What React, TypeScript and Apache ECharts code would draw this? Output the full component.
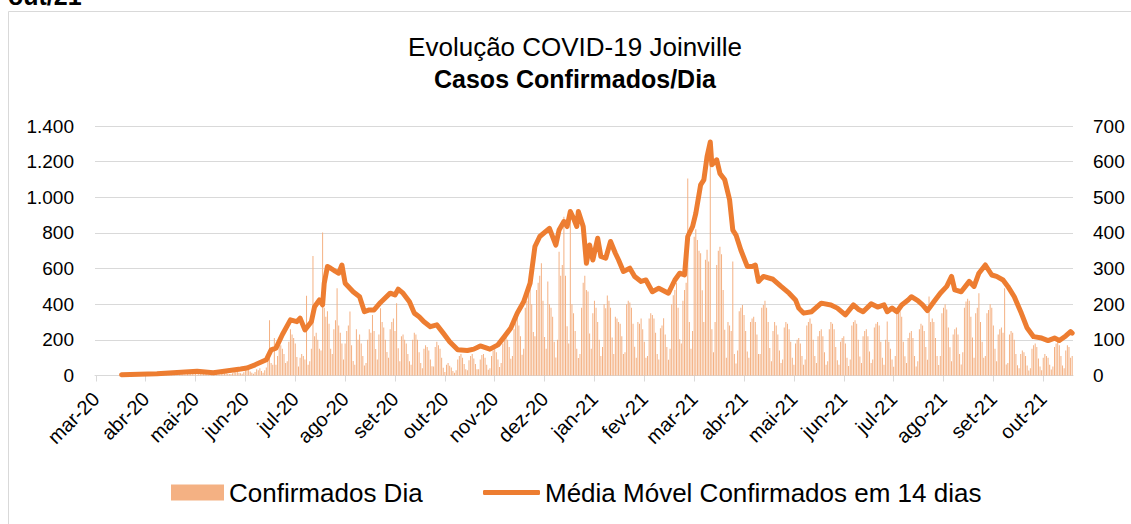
import React, { useEffect, useRef } from 'react';
import * as echarts from 'echarts';

// ---- axis / category data ----
const START_UTC = Date.UTC(2020, 2, 1);
const DAY_COUNT = 608;
const monthAbbr = ['jan', 'fev', 'mar', 'abr', 'mai', 'jun', 'jul', 'ago', 'set', 'out', 'nov', 'dez'];
const leftAxis = { min: 0, max: 1400, interval: 200 };
const rightAxis = { min: 0, max: 700, interval: 100 };

// ---- daily confirmed cases (one value per day, weekly rows) ----
const dailyCases = [
  0, 0, 0, 0, 0, 0, 0,
  0, 0, 0, 0, 0, 0, 0,
  0, 1, 0, 2, 3, 1, 2,
  1, 2, 4, 3, 5, 2, 3,
  2, 3, 6, 4, 5, 3, 4,
  3, 4, 7, 5, 6, 4, 5,
  3, 5, 8, 7, 6, 5, 6,
  4, 6, 10, 22, 9, 7, 6,
  5, 8, 14, 12, 13, 10, 8,
  6, 9, 15, 14, 12, 11, 9,
  4, 6, 10, 9, 11, 8, 7,
  5, 8, 13, 12, 14, 10, 9,
  8, 12, 20, 18, 21, 15, 12,
  10, 18, 30, 28, 32, 22, 16,
  10, 20, 35, 30, 40, 25, 15,
  30, 45, 80, 310, 70, 60, 210,
  60, 110, 180, 170, 150, 120, 70,
  80, 190, 260, 230, 210, 180, 104,
  50, 100, 120, 110, 90, 447, 60,
  80, 150, 671, 220, 240, 200, 150,
  140, 802, 380, 330, 360, 290, 150,
  120, 260, 310, 490, 280, 240, 180,
  90, 180, 250, 280, 359, 170, 81,
  60, 260, 200, 230, 180, 110, 56,
  70, 200, 260, 240, 340, 250, 148,
  90, 230, 378, 300, 270, 200, 132,
  100, 260, 300, 320, 250, 405, 153,
  80, 220, 230, 200, 180, 120, 80,
  60, 200, 240, 230, 200, 130, 70,
  40, 150, 170, 160, 140, 90, 52,
  50, 160, 190, 170, 150, 100, 44,
  20, 60, 70, 55, 45, 25, 15,
  30, 90, 110, 120, 100, 65, 35,
  30, 85, 110, 120, 95, 65, 35,
  35, 90, 115, 120, 100, 60, 32,
  40, 110, 140, 150, 130, 90, 48,
  70, 180, 220, 230, 200, 160, 94,
  110, 260, 320, 340, 280, 220, 116,
  150, 380, 420, 460, 500, 400, 244,
  220, 480, 520, 560, 630, 420, 216,
  150, 527, 400, 380, 330, 190, 101,
  200, 695, 560, 620, 891, 560, 276,
  180, 930, 400, 350, 250, 150, 98,
  120, 380, 520, 560, 480, 471, 235,
  150, 350, 420, 380, 300, 200, 110,
  160, 400, 378, 449, 420, 380, 213,
  120, 330, 320, 300, 290, 220, 120,
  130, 400, 420, 410, 380, 290, 162,
  100, 300, 290, 320, 260, 190, 100,
  110, 320, 350, 340, 320, 240, 120,
  90, 265, 280, 321, 230, 160, 88,
  150, 400, 450, 480, 520, 380, 204,
  180, 420, 480, 520, 1106, 300, 150,
  250, 779, 820, 760, 700, 686, 479,
  300, 650, 705, 640, 1240, 260, 131,
  300, 620, 700, 723, 680, 480, 257,
  100, 300, 280, 250, 639, 120, 67,
  140, 360, 380, 396, 340, 250, 134,
  100, 300, 320, 330, 300, 230, 120,
  120, 380, 396, 420, 380, 300, 154,
  80, 250, 300, 280, 230, 140, 70,
  90, 270, 300, 290, 260, 190, 100,
  60, 180, 200, 210, 180, 110, 60,
  90, 280, 300, 320, 290, 200, 110,
  70, 220, 250, 260, 220, 130, 60,
  80, 260, 300, 290, 260, 160, 86,
  60, 190, 210, 220, 180, 100, 54,
  90, 280, 300, 310, 290, 200, 106,
  70, 220, 250, 260, 220, 134, 70,
  90, 270, 290, 300, 280, 190, 100,
  60, 200, 303, 190, 150, 90, 49,
  110, 350, 380, 360, 330, 190, 108,
  70, 210, 240, 250, 210, 110, 50,
  80, 260, 290, 280, 250, 160, 88,
  443, 300, 320, 300, 210, 110, 59,
  110, 350, 380, 400, 370, 270, 158,
  80, 230, 260, 270, 230, 120, 62,
  130, 380, 415, 430, 420, 330, 213,
  100, 350, 380, 462, 300, 190, 100,
  110, 350, 368, 400, 380, 280, 150,
  80, 230, 260, 270, 240, 490, 62,
  70, 230, 250, 240, 200, 120, 58,
  40, 120, 140, 130, 110, 56, 28,
  40, 150, 170, 180, 160, 96, 50,
  30, 100, 120, 110, 100, 60, 34,
  50, 160, 180, 190, 170, 110, 56,
  40, 140, 170, 160, 100, 110,
];

// ---- 14-day moving average: day index (from 2020-03-01) and value ----
const maDays = [
  16, 38, 63, 73, 90, 94, 99, 106, 109, 112, 116, 121, 125, 127, 130, 134, 136, 139, 141, 142,
  144, 146, 149, 151, 153, 155, 160, 164, 167, 170, 173, 177, 183, 186, 188, 191, 195, 198, 201, 204,
  208, 212, 216, 220, 225, 231, 235, 239, 245, 250, 254, 258, 262, 266, 270, 273, 276, 282, 286, 288,
  291, 293, 295, 297, 299, 300, 303, 305, 307, 309, 312, 314, 317, 320, 323, 325, 328, 332, 335, 339,
  342, 346, 350, 356, 360, 363, 366, 368, 371, 373, 376, 378, 380, 382, 383, 386, 388, 391, 394, 396,
  398, 401, 405, 408, 410, 412, 415, 421, 426, 431, 435, 437, 440, 445, 451, 457, 461, 466, 471, 474,
  477, 482, 486, 490, 492, 495, 498, 501, 505, 507, 511, 514, 517, 521, 525, 529, 532, 534, 538, 543,
  546, 549, 553, 557, 560, 564, 567, 571, 575, 579, 583, 588, 592, 596, 599, 603, 606, 607,
];
const maValues = [
  2, 5, 12, 8, 18, 21, 30, 44, 72, 77, 115, 156, 151, 161, 128, 151, 193, 212, 198, 259,
  306, 301, 292, 287, 310, 259, 235, 221, 179, 184, 184, 205, 231, 226, 242, 231, 207, 175, 165, 151,
  137, 142, 119, 95, 72, 70, 74, 83, 74, 86, 109, 133, 175, 207, 259, 362, 390, 413, 366, 408,
  432, 418, 460, 441, 418, 460, 418, 315, 366, 324, 385, 334, 329, 376, 343, 324, 292, 301, 278, 264,
  268, 235, 245, 231, 268, 287, 282, 390, 418, 455, 535, 549, 614, 655, 591, 605, 567, 549, 493, 408,
  394, 352, 306, 306, 310, 264, 278, 270, 250, 231, 212, 189, 175, 179, 203, 198, 189, 170, 198, 186,
  179, 201, 192, 198, 179, 189, 179, 198, 212, 221, 210, 198, 182, 207, 231, 250, 278, 240, 235, 264,
  250, 287, 310, 282, 278, 268, 250, 221, 179, 133, 109, 105, 98, 105, 98, 111, 123, 119,
];

const barName = 'Confirmados Dia';
const lineName = 'Média Móvel Confirmados em 14 dias';

const FONT = '"Liberation Sans", Arial, sans-serif';

const categories = Array.from({ length: DAY_COUNT }, (_, i) =>
  new Date(START_UTC + i * 86400000).toISOString().slice(0, 10)
);

const fmtMonth = (v: string) => {
  const [y, m] = v.split('-');
  return `${monthAbbr[Number(m) - 1]}-${y.slice(2)}`;
};

const fmtThousands = (v: number) =>
  v >= 1000 ? `${Math.floor(v / 1000)}.${String(v % 1000).padStart(3, '0')}` : String(v);

export default function App() {
  const ref = useRef<HTMLDivElement>(null);

  useEffect(() => {
    document.body.style.margin = '0';
    const chart = echarts.init(ref.current!, null, { renderer: 'svg' });
    const option: any = {
      animation: false,
      backgroundColor: '#ffffff',
      textStyle: { fontFamily: FONT },
      graphic: [
        {
          type: 'rect',
          z: -10,
          shape: { x: 8.5, y: 11.5, width: 1200, height: 600 },
          style: { fill: 'none', stroke: '#D9D9D9', lineWidth: 1 },
        },
        {
          type: 'text',
          x: 8,
          y: -3.7,
          style: {
            text: 'out/21',
            font: `bold 25px ${FONT}`,
            fill: '#000',
            verticalAlign: 'middle',
          },
        },
        {
          type: 'text',
          x: 575,
          y: 46.5,
          style: {
            text: 'Evolução COVID-19 Joinville',
            font: `26px ${FONT}`,
            fill: '#000',
            align: 'center',
            verticalAlign: 'middle',
          },
        },
        {
          type: 'text',
          x: 575,
          y: 78.5,
          style: {
            text: 'Casos Confirmados/Dia',
            font: `bold 25px ${FONT}`,
            fill: '#000',
            align: 'center',
            verticalAlign: 'middle',
          },
        },
      ],
      legend: [
        {
          data: [{ name: barName, icon: 'rect' }],
          left: 171,
          top: 479,
          padding: 0,
          itemWidth: 53,
          itemHeight: 16,
          selectedMode: false,
          textStyle: { fontSize: 26, fontFamily: FONT, color: '#000', lineHeight: 27 },
        },
        {
          data: [{ name: lineName, icon: 'roundRect' }],
          left: 483,
          top: 479,
          padding: 0,
          itemWidth: 57,
          itemHeight: 5,
          selectedMode: false,
          textStyle: { fontSize: 26, fontFamily: FONT, color: '#000', lineHeight: 27 },
        },
      ],
      grid: { left: 95, right: 58, top: 126, bottom: 148.5 },
      xAxis: {
        type: 'category',
        data: categories,
        boundaryGap: true,
        axisLine: { show: true, lineStyle: { color: '#D9D9D9', width: 1 } },
        axisTick: {
          show: true,
          interval: 30,
          alignWithLabel: true,
          length: 6,
          lineStyle: { color: '#D9D9D9' },
        },
        axisLabel: {
          interval: 30,
          rotate: 45,
          margin: 20,
          fontSize: 20,
          fontFamily: FONT,
          color: '#000',
          formatter: fmtMonth,
        },
        splitLine: { show: false },
      },
      yAxis: [
        {
          type: 'value',
          min: leftAxis.min,
          max: leftAxis.max,
          interval: leftAxis.interval,
          axisLine: { show: false },
          axisTick: { show: false },
          axisLabel: {
            margin: 21,
            fontSize: 19,
            fontFamily: FONT,
            color: '#000',
            formatter: fmtThousands,
          },
          splitLine: { show: true, lineStyle: { color: '#D9D9D9', width: 1 } },
        },
        {
          type: 'value',
          min: rightAxis.min,
          max: rightAxis.max,
          interval: rightAxis.interval,
          position: 'right',
          axisLine: { show: false },
          axisTick: { show: false },
          axisLabel: { margin: 20, fontSize: 19, fontFamily: FONT, color: '#000' },
          splitLine: { show: false },
        },
      ],
      series: [
        {
          name: barName,
          type: 'bar',
          yAxisIndex: 0,
          data: dailyCases,
          barWidth: 1,
          itemStyle: { color: '#F4B183' },
          z: 2,
        },
        {
          name: lineName,
          type: 'line',
          yAxisIndex: 1,
          data: maDays.map((d, i) => [d, maValues[i]]),
          showSymbol: false,
          symbol: 'none',
          color: '#ED7D31',
          itemStyle: { color: '#ED7D31' },
          lineStyle: { color: '#ED7D31', width: 5, cap: 'round', join: 'round' },
          z: 5,
        },
      ],
    };
    chart.setOption(option);
    return () => chart.dispose();
  }, []);

  return <div ref={ref} style={{ width: 1131, height: 524 }} />;
}
